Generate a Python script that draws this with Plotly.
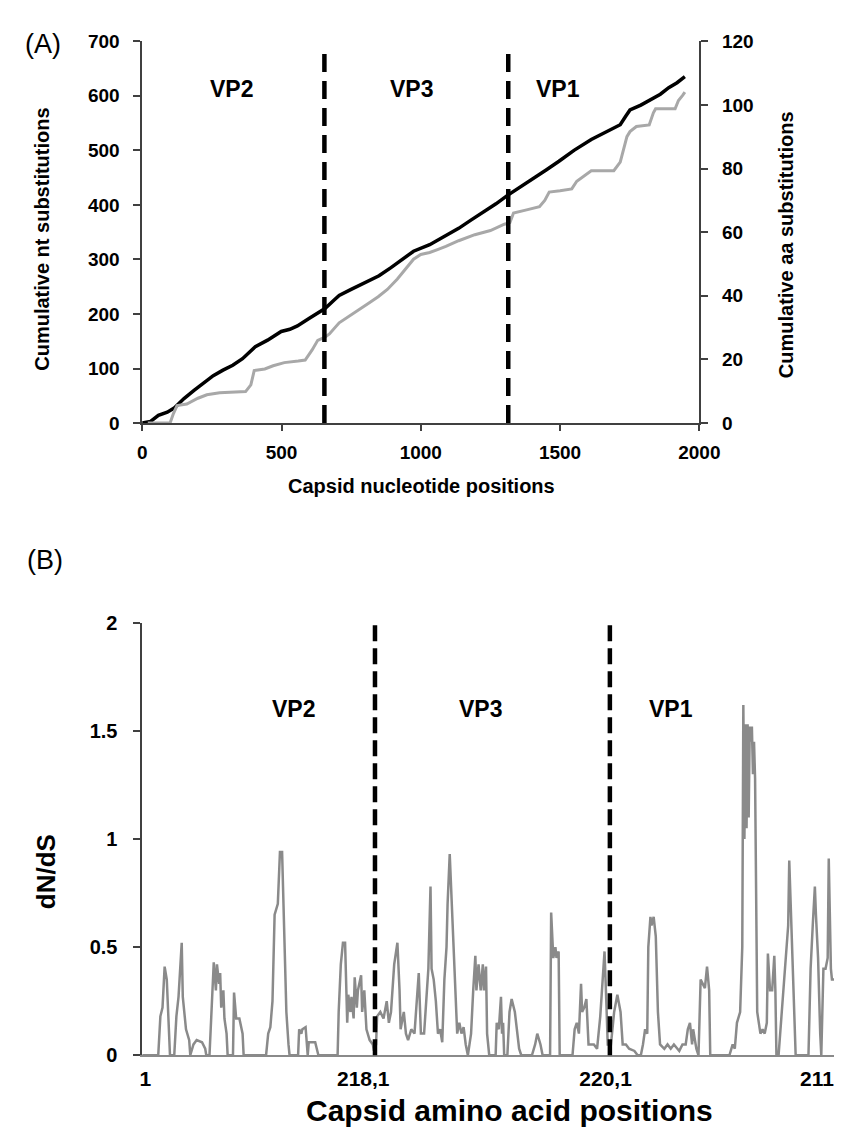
import plotly.graph_objects as go

W, H = 850, 1142

# ---------------- Panel A data ----------------
nt_pos = [0, 30, 58, 90, 116, 150, 186, 220, 255, 290, 325, 360, 406, 450, 499, 530, 557,
          600, 630, 656, 690, 707, 750, 800, 850, 893, 940, 974, 1032, 1043, 1090, 1136,
          1180, 1229, 1270, 1310, 1355, 1403, 1450, 1496, 1550, 1612, 1660, 1716, 1735,
          1751, 1790, 1820, 1860, 1890, 1920, 1948]
nt_cum = [0, 3, 14, 20, 28, 45, 60, 73, 87, 97, 106, 118, 140, 152, 168, 172, 178,
          192, 202, 210, 226, 234, 245, 258, 270, 285, 302, 315, 327, 330, 343, 357,
          372, 388, 402, 417, 432, 447, 464, 480, 500, 520, 532, 547, 562,
          574, 583, 592, 603, 615, 624, 635]

aa_pos = [20, 100, 112, 125, 160, 180, 200, 232, 278, 371, 390, 402, 440, 470, 510, 560,
          585, 610, 630, 656, 672, 707, 740, 777, 810, 847, 880, 916, 945, 974, 1000, 1032,
          1060, 1090, 1136, 1194, 1250, 1300, 1320, 1333, 1380, 1426, 1445, 1461, 1500,
          1542, 1560, 1590, 1612, 1693, 1716, 1740, 1751, 1774, 1820, 1835, 1843, 1913,
          1925, 1940, 1948]
aa_cum = [0, 0, 3, 5.5, 6, 7, 7.8, 8.9, 9.5, 9.9, 12, 16.5, 17, 18, 19, 19.5,
          19.8, 23, 26, 27, 28, 31.5, 33.5, 35.6, 37.5, 39.7, 42, 45.3, 48.5, 51.5, 53, 53.6,
          54.5, 55.5, 57.3, 59.2, 60.5, 62.5, 63, 66, 67, 68, 70, 72.6, 73,
          73.6, 76, 78, 79.3, 79.3, 82, 90, 91.6, 93.2, 93.7, 97.5, 98.8, 98.8,
          101.4, 103, 104]

a_bounds = [654, 1314]
a_labels = ["VP2", "VP3", "VP1"]
a_label_x = [322, 965, 1494]
a_label_y = 612

# ---------------- Panel B data ----------------
b_pos = [1, 16, 18, 20, 22, 24, 27, 31, 33, 35, 38, 39, 42, 45, 46, 49, 52, 57, 60, 61,
         64, 66, 68, 70, 71, 73, 74, 75, 77, 78, 80, 81, 86, 87, 89, 92, 95, 96,
         117, 119, 121, 123, 125, 128, 130, 132, 134, 136, 138, 139,
         147, 148, 150, 151, 154, 155, 156, 157, 163, 166,
         184, 185, 187, 189, 191, 193, 194, 196, 197, 199, 200, 202, 203, 206, 207, 209,
         211, 214, 217, 218, 220, 221, 224, 227, 230, 232, 234, 237, 240, 242, 243, 246,
         248, 250, 253, 256, 260, 262, 265, 267, 269, 271, 272, 274, 276, 278, 280, 282,
         284, 286, 287, 289, 291, 293, 295, 296, 298, 300, 302, 304, 306, 309, 311, 313,
         314, 316, 318, 320, 321, 323, 324, 326, 332, 333, 335, 337, 338, 339, 340, 343,
         345, 347, 350, 352, 354, 356, 366, 369, 371, 374, 376, 383, 384, 386, 388, 389,
         391, 392, 404, 406, 408, 410, 412, 413, 415, 417, 419, 424, 427, 430, 434, 436,
         437, 440, 443, 446, 449, 451, 454, 457, 462, 465, 468, 470, 472, 474, 475, 477,
         478, 480, 482, 484, 486, 490, 493, 496, 499, 504, 507, 510, 512, 514, 516, 517,
         520, 522, 524, 526, 528, 530, 532, 533, 551, 554, 556, 558, 561, 563, 564, 565,
         566, 567, 568, 569, 570, 571, 572, 573, 574, 575, 576, 577, 580, 582, 584, 586,
         587, 589, 591, 593, 594, 595, 597, 600, 603, 606, 607, 609, 611, 613, 625, 627,
         629, 631, 632, 634, 636, 637, 639, 641, 643, 644, 646, 647, 649]
b_dnds = [0, 0, 0.18, 0.22, 0.41, 0.35, 0, 0, 0.18, 0.27, 0.52, 0.27, 0.12, 0.07, 0, 0.05,
          0.07, 0.06, 0.03, 0,
          0, 0.2, 0.43, 0.3, 0.42, 0.33, 0.38, 0.22, 0.3, 0.17, 0.1, 0, 0, 0.29, 0.17, 0.17,
          0.1, 0,
          0, 0.1, 0.13, 0.25, 0.65, 0.7, 0.94, 0.94, 0.55, 0.2, 0.05, 0,
          0, 0.12, 0.1, 0.12, 0.13, 0.05, 0, 0.06, 0.06, 0,
          0, 0.2, 0.42, 0.52, 0.52, 0.15, 0.28, 0.2, 0.27, 0.17, 0.36, 0.22, 0.3, 0.37, 0.2,
          0.3,
          0.12, 0.07, 0.05, 0.02, 0.05, 0.18, 0.2, 0.17, 0.25, 0.15, 0.2, 0.42, 0.52, 0.3,
          0.12, 0.2,
          0.1, 0.07, 0.12, 0.1, 0.38, 0.1, 0.1, 0.25, 0.4, 0.78, 0.4, 0.35, 0.25, 0.1, 0.12,
          0.06,
          0.35, 0.5, 0.7, 0.93, 0.7, 0.4, 0.25, 0.1, 0.15, 0.1, 0.13, 0.05, 0, 0.1, 0.3,
          0.46,
          0.3, 0.42, 0.3, 0.42, 0.3, 0.41, 0.1, 0, 0, 0.15, 0.12, 0.27, 0.1, 0.15, 0, 0,
          0.2, 0.26, 0.2, 0.1, 0.03, 0, 0, 0.05, 0.1, 0.05, 0, 0, 0.66, 0.45, 0.5, 0.45,
          0.48, 0, 0, 0.12, 0.15, 0.1, 0.33, 0.2, 0.22, 0.26, 0.05, 0.05, 0.03, 0.18, 0.48,
          0.2,
          0.05, 0.05, 0.2, 0.28, 0.2, 0.05, 0.05, 0.03, 0.02, 0, 0, 0.05, 0.12, 0.1, 0.5,
          0.64,
          0.6, 0.64, 0.55, 0.2, 0.05, 0.03, 0.05, 0.03, 0.05, 0.02, 0.05, 0.05, 0.12, 0.15,
          0.05, 0.12,
          0.03, 0, 0.35, 0.33, 0.31, 0.41, 0.3, 0, 0, 0.05, 0.03, 0.15, 0.2, 0.5, 1.62,
          1.0,
          1.53, 1.05, 1.53, 1.1, 1.52, 1.45, 1.52, 1.3, 1.45, 1.28, 0.6, 0.2, 0.1, 0.12,
          0.1, 0.15,
          0.47, 0.3, 0.3, 0.46, 0.3, 0, 0, 0.2, 0.4, 0.6, 0.9, 0.6, 0.2, 0, 0, 0.4,
          0.6, 0.78, 0.65, 0.45, 0.1, 0, 0.4, 0.4, 0.45, 0.91, 0.4, 0.35, 0.35]

b_bounds = [219, 439]
b_labels = ["VP2", "VP3", "VP1"]
b_label_x = [143, 318, 496]
b_label_y = 1.6
b_tick_pos = [4, 208, 435, 633]
b_tick_text = ["1", "218,1", "220,1", "211"]


def px_x(p):
    return p / W


def px_y(p):
    return 1 - p / H


FONT = "Liberation Sans"
AXC = "#404040"

fig = go.Figure()

fig.add_trace(go.Scatter(x=aa_pos, y=aa_cum, mode="lines", yaxis="y2", xaxis="x",
                         line=dict(color="#a8a8a8", width=3), showlegend=False))
fig.add_trace(go.Scatter(x=nt_pos, y=nt_cum, mode="lines", xaxis="x", yaxis="y",
                         line=dict(color="#000000", width=3.5), showlegend=False))
fig.add_trace(go.Scatter(x=b_pos, y=b_dnds, mode="lines", xaxis="x2", yaxis="y3",
                         line=dict(color="#8a8a8a", width=2.5), showlegend=False))

shapes = []
for b in a_bounds:
    shapes.append(dict(type="line", xref="x", yref="y domain", x0=b, x1=b, y0=0, y1=0.99,
                       line=dict(color="black", width=4.5, dash="18px,9px")))
for b in b_bounds:
    shapes.append(dict(type="line", xref="x2", yref="y3 domain", x0=b, x1=b, y0=0, y1=0.995,
                       line=dict(color="black", width=4.5, dash="16px,7px")))

ann = []
for t, xv in zip(a_labels, a_label_x):
    ann.append(dict(text=t, x=xv, y=a_label_y, xref="x", yref="y", showarrow=False,
                    font=dict(family=FONT, size=23, weight=700, color="black")))
for t, xv in zip(b_labels, b_label_x):
    ann.append(dict(text=t, x=xv, y=b_label_y, xref="x2", yref="y3", showarrow=False,
                    font=dict(family=FONT, size=23, weight=700, color="black")))


def pa(text, x, y, size, bold=True, angle=0):
    return dict(text=text, x=px_x(x), y=px_y(y), xref="paper", yref="paper",
                showarrow=False, xanchor="center", yanchor="middle", textangle=angle,
                font=dict(family=FONT, size=size, weight=700 if bold else 400, color="black"))


ann += [
    pa("(A)", 31, 26, 27, bold=False),
    pa("(B)", 33, 552, 27, bold=False),
    pa("Cumulative nt substitutions", 30, 225, 20, angle=-90),
    pa("Cumulative aa substitutions", 797, 230, 20, angle=-90),
    pa("Capsid nucleotide positions", 421, 476, 20),
    pa("dN/dS", 34, 869, 26, angle=-90),
    pa("Capsid amino acid positions", 512, 1113, 30),
]

tickA = dict(family=FONT, size=19, weight=700, color="black")
tickB = dict(family=FONT, size=20, weight=700, color="black")

fig.update_layout(
    width=W, height=H,
    margin=dict(l=0, r=0, t=0, b=0),
    paper_bgcolor="white", plot_bgcolor="white",
    showlegend=False,
    shapes=shapes,
    annotations=ann,
    xaxis=dict(domain=[133.3 / W, 708 / W], anchor="y", range=[0, 2000],
               tickvals=[0, 500, 1000, 1500, 2000], ticks="outside", ticklen=6,
               tickwidth=1.5, tickcolor=AXC, showline=True, linecolor=AXC, linewidth=1.5,
               showgrid=False, zeroline=False, tickfont=tickA, ticklabelstandoff=5),
    yaxis=dict(domain=[px_y(412), px_y(22.7)], anchor="x", range=[0, 700],
               tickvals=[0, 100, 200, 300, 400, 500, 600, 700], ticks="outside", ticklen=7,
               tickwidth=1.5, tickcolor=AXC, showline=True, linecolor=AXC, linewidth=1.5,
               showgrid=False, zeroline=False, tickfont=tickA, ticklabelstandoff=10),
    yaxis2=dict(domain=[px_y(412), px_y(22.7)], anchor="x", overlaying="y", side="right",
                range=[0, 120], tickvals=[0, 20, 40, 60, 80, 100, 120], ticks="outside",
                ticklen=7, tickwidth=1.5, tickcolor=AXC, showline=True, linecolor=AXC,
                linewidth=1.5, showgrid=False, zeroline=False, tickfont=tickA,
                ticklabelstandoff=10),
    xaxis2=dict(domain=[133.3 / W, 847 / W], anchor="y3", range=[1, 649],
                tickvals=b_tick_pos, ticktext=b_tick_text, ticks="",
                showline=True, linecolor="#8a8a8a", linewidth=1.5, showgrid=False,
                zeroline=False, tickfont=dict(family=FONT, size=21, weight=700, color="black"),
                ticklabelstandoff=4),
    yaxis3=dict(domain=[px_y(1056.6), px_y(615.6)], anchor="x2", range=[0, 2],
                tickvals=[0, 0.5, 1, 1.5, 2], ticks="outside", ticklen=7, tickwidth=1.5,
                tickcolor=AXC, showline=True, linecolor=AXC, linewidth=1.5, showgrid=False,
                zeroline=False, tickfont=tickB, ticklabelstandoff=12),
)

fig.write_html("out.html")
